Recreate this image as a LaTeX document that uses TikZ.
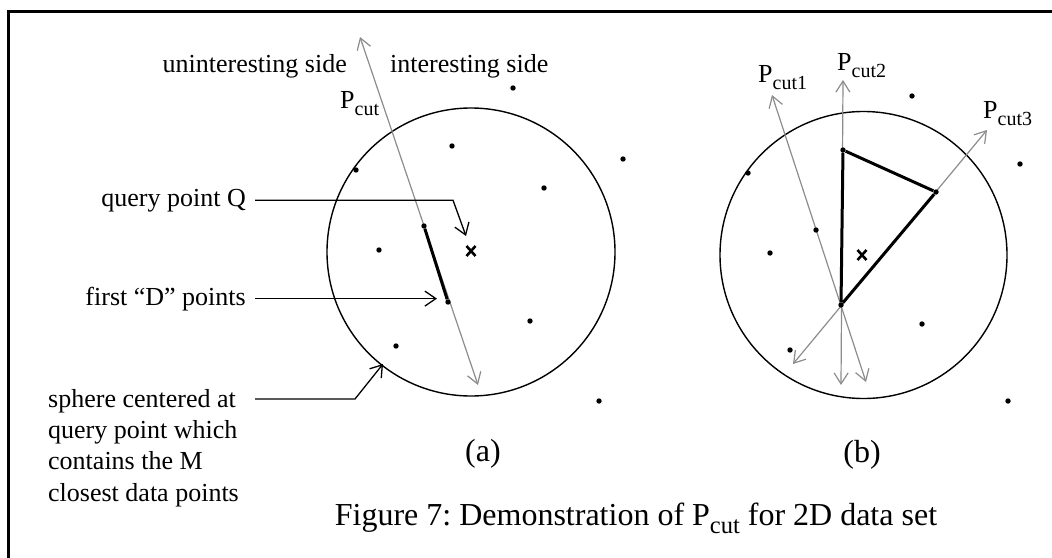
\documentclass[tikz,border=0pt]{standalone}
\usepackage{fontspec}
\setmainfont{Liberation Serif}
\usetikzlibrary{arrows.meta}
\newcommand\Psub[2]{P\raisebox{-0.27em}{\fontsize{#2}{#2}\selectfont #1}}
\frenchspacing
\begin{document}
\begin{tikzpicture}[x=1pt,y=-1pt,
  dot/.style={circle,fill=black,inner sep=0pt,minimum size=5.4pt},
  lbl/.style={font=\fontsize{26}{31.3}\selectfont,inner sep=0pt},
  big/.style={font=\fontsize{32}{38}\selectfont,inner sep=0pt},
  cutline/.style={draw=black!45,line width=1.2pt,{Straight Barb[length=11pt,width=14pt]}-{Straight Barb[length=11pt,width=14pt]}},
  conn/.style={draw=black,line width=1.3pt,-{Straight Barb[length=11pt,width=15pt]}},
  thick seg/.style={draw=black,line width=3pt},
  sphere/.style={draw=black,line width=1.4pt},
  xm/.style={draw=black,line width=2.6pt}]
\useasboundingbox (0,0) rectangle (1052,557);
% frame (left and top edges)
\draw[line width=3pt] (8,560) -- (8,11) -- (1056,11);

% ---------- (a) ----------
\node[draw=none,inner sep=0pt] (ca) at (471,252) {};
\draw[sphere] (ca) circle[radius=144];
\coordinate (ta) at (360,37);
\coordinate (ba) at (478,385);
\draw[cutline] (ta) -- (ba);
\node[dot] (d1) at (424,226) {};
\node[dot] (d2) at (448,302) {};
\draw[thick seg] (d1) -- (d2);
\node[dot] (a1) at (513,88) {};
\node[dot] (a2) at (452,146) {};
\node[dot] (a3) at (356,170) {};
\node[dot] (a4) at (623,159) {};
\node[dot] (a5) at (544,188) {};
\node[dot] (a6) at (379,250) {};
\node[dot] (a7) at (530,321) {};
\node[dot] (a8) at (396,346) {};
\node[dot] (a9) at (599,401) {};
\coordinate (qa) at (471,251);
\draw[xm] (qa) ++(-4.5,-5) -- ++(9,10) (qa) ++(-4.5,5) -- ++(9,-10);

\node[lbl,anchor=base east] (unint) at (347,72) {uninteresting side};
\node[lbl,anchor=base west] (intr) at (390,72) {interesting side};
\node[lbl,anchor=base west] (pcut) at (340,108) {\Psub{cut}{20}};

\node[lbl,anchor=base east,inner xsep=9pt] (qlab) at (255,206) {query point Q};
\coordinate (qbend) at (453,199);
\coordinate (qtip) at (466,236);
\draw[conn] (qlab.east) -- (qlab.east -| qbend) -- (qtip);

\node[lbl,anchor=base east,inner xsep=9pt] (dlab) at (255,305) {first ``D'' points};
\coordinate (dtip) at (437,298);
\draw[conn] (dlab.east) -- (dlab.east -| dtip);

\node[lbl,anchor=north west,align=left] (slab) at (48,389) {sphere centered at\\query point which\\contains the M\\closest data points};
\coordinate (sst) at (255,399);
\coordinate (sbend) at (355,399);
\coordinate (stip) at (383,364);
\draw[conn] (sst) -- (sbend) -- (stip);

\node[big,anchor=base] (la) at (483,461) {(a)};

% ---------- (b) ----------
\node[draw=none,inner sep=0pt] (cb) at (863.5,255) {};
\draw[sphere] (cb) circle[radius=143.5];
\coordinate (p1t) at (772,95);
\coordinate (p1b) at (866,382);
\coordinate (p2t) at (843,80);
\coordinate (p2b) at (841,385);
\coordinate (p3t) at (987,130);
\coordinate (p3b) at (793,364);
\draw[cutline] (p1t) -- (p1b);
\draw[cutline] (p2t) -- (p2b);
\draw[cutline] (p3b) -- (p3t);
\node[dot] (v1) at (843,150) {};
\node[dot] (v2) at (936,192) {};
\node[dot] (v3) at (841,305) {};
\draw[thick seg,line join=round] (v1) -- (v2) -- (v3) -- (v1);
\node[dot] (b1) at (912,96) {};
\node[dot] (b2) at (748,173) {};
\node[dot] (b3) at (1020,164) {};
\node[dot] (b4) at (816,230) {};
\node[dot] (b5) at (770,253) {};
\node[dot] (b6) at (922,324) {};
\node[dot] (b7) at (790,350) {};
\node[dot] (b8) at (1008,401) {};
\coordinate (qb) at (862,255);
\draw[xm] (qb) ++(-4.5,-5) -- ++(9,10) (qb) ++(-4.5,5) -- ++(9,-10);

\node[lbl,anchor=base west] (pc1) at (758,82) {\Psub{cut1}{20}};
\node[lbl,anchor=base west] (pc2) at (837,70) {\Psub{cut2}{20}};
\node[lbl,anchor=base west] (pc3) at (983,118) {\Psub{cut3}{20}};

\node[big,anchor=base] (lb) at (862,462) {(b)};

% caption
\node[big,anchor=base] (cap) at (636,525) {Figure 7: Demonstration of \Psub{cut}{24.5} for 2D data set};
\end{tikzpicture}
\end{document}
